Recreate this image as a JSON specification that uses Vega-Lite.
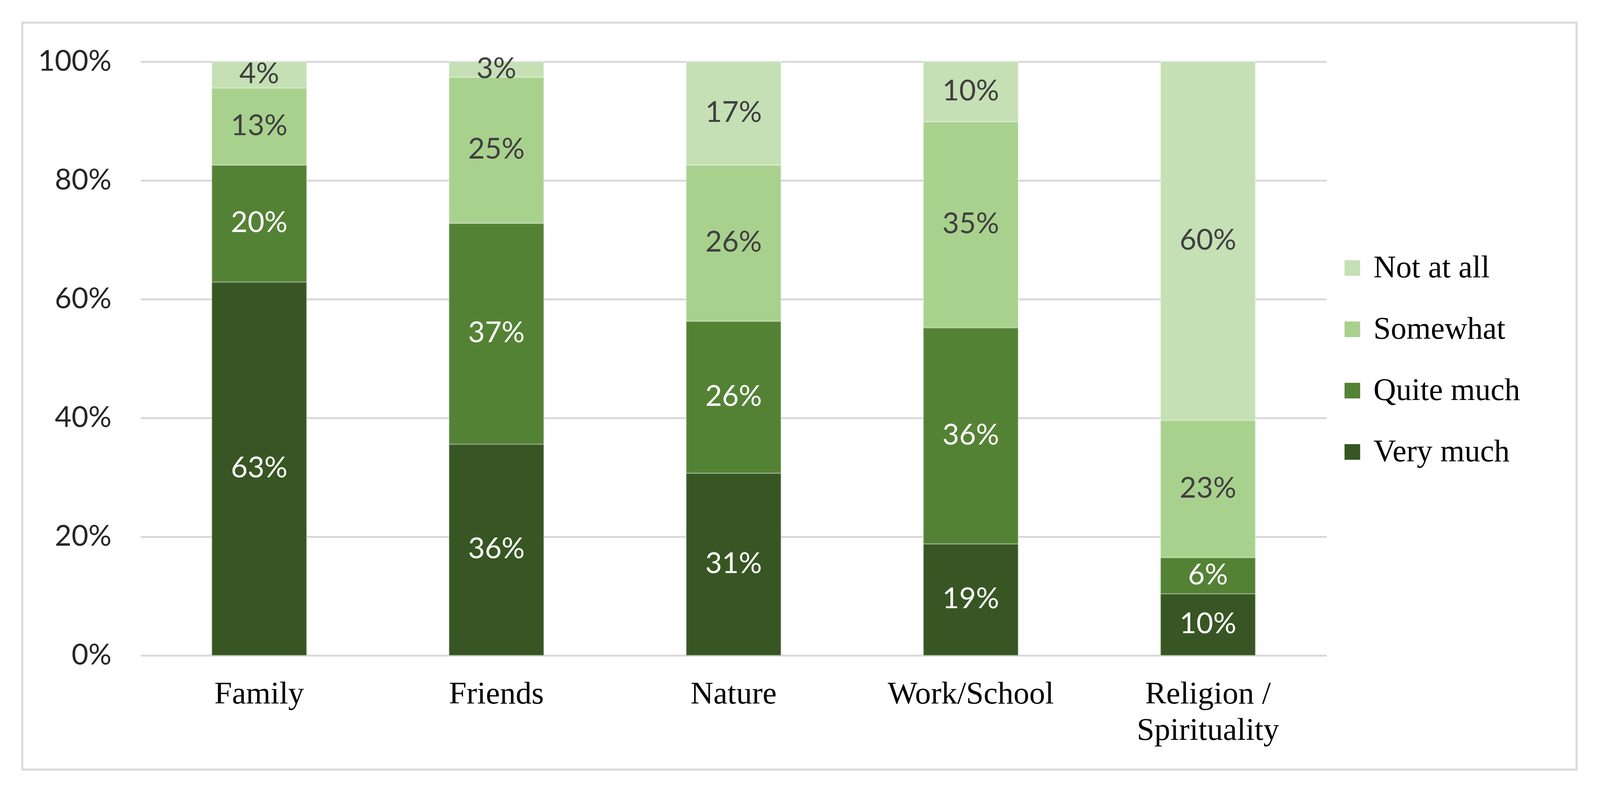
{
  "$schema": "https://vega.github.io/schema/vega-lite/v6.json",
  "width": 4096,
  "height": 2025,
  "autosize": {"type": "fit", "contains": "padding"},
  "padding": {"left": 57, "top": 58, "right": 60, "bottom": 55},
  "background": "white",
  "config": {
    "view": {"stroke": "#d9d9d9", "strokeWidth": 5},
    "font": "Lato"
  },
  "data": {
    "values": [
      {"source": "Family", "level": "Very much", "share": 0.629},
      {"source": "Family", "level": "Quite much", "share": 0.197},
      {"source": "Family", "level": "Somewhat", "share": 0.130},
      {"source": "Family", "level": "Not at all", "share": 0.044},
      {"source": "Friends", "level": "Very much", "share": 0.356},
      {"source": "Friends", "level": "Quite much", "share": 0.372},
      {"source": "Friends", "level": "Somewhat", "share": 0.246},
      {"source": "Friends", "level": "Not at all", "share": 0.026},
      {"source": "Nature", "level": "Very much", "share": 0.307},
      {"source": "Nature", "level": "Quite much", "share": 0.256},
      {"source": "Nature", "level": "Somewhat", "share": 0.263},
      {"source": "Nature", "level": "Not at all", "share": 0.174},
      {"source": "Work/School", "level": "Very much", "share": 0.188},
      {"source": "Work/School", "level": "Quite much", "share": 0.364},
      {"source": "Work/School", "level": "Somewhat", "share": 0.347},
      {"source": "Work/School", "level": "Not at all", "share": 0.101},
      {"source": "Religion / Spirituality", "level": "Very much", "share": 0.104},
      {"source": "Religion / Spirituality", "level": "Quite much", "share": 0.061},
      {"source": "Religion / Spirituality", "level": "Somewhat", "share": 0.231},
      {"source": "Religion / Spirituality", "level": "Not at all", "share": 0.604}
    ]
  },
  "transform": [
    {"calculate": "indexof(['Very much', 'Quite much', 'Somewhat', 'Not at all'], datum.level)", "as": "rank"},
    {"stack": "share", "groupby": ["source"], "sort": [{"field": "rank", "order": "ascending"}], "as": ["lo", "hi"]},
    {"calculate": "(datum.lo + datum.hi) / 2", "as": "mid"}
  ],
  "encoding": {
    "x": {
      "field": "source",
      "type": "nominal",
      "sort": null,
      "scale": {"range": [303, 3339], "paddingInner": 0.6, "paddingOuter": 0.3},
      "axis": {
        "title": null,
        "orient": "bottom",
        "offset": -292,
        "domain": false,
        "ticks": false,
        "tickSize": 0,
        "labelPadding": 58,
        "labelAngle": 0,
        "labelFont": "Liberation Serif",
        "labelFontSize": 81,
        "labelColor": "#000000",
        "labelLineHeight": 93,
        "labelLimit": 1000,
        "labelExpr": "datum.value == 'Religion / Spirituality' ? ['Religion /', 'Spirituality'] : datum.label"
      }
    }
  },
  "layer": [
    {
      "mark": {"type": "bar", "stroke": "#ffffff", "strokeOpacity": 0.3, "strokeWidth": 3},
      "encoding": {
        "y": {
          "field": "lo",
          "type": "quantitative",
          "scale": {"domain": [0, 1], "range": [1620, 100], "nice": false},
          "axis": {
            "title": null,
            "values": [0, 0.2, 0.4, 0.6, 0.8, 1],
            "format": ".0%",
            "grid": true,
            "gridColor": "#d9d9d9",
            "gridWidth": 5,
            "domain": false,
            "ticks": false,
            "tickSize": 0,
            "offset": -303,
            "labelPadding": 75,
            "labelLimit": 1000,
            "labelFont": "Lato",
            "labelFontSize": 74,
            "labelColor": "#262626"
          }
        },
        "y2": {"field": "hi"},
        "color": {
          "field": "level",
          "type": "nominal",
          "scale": {
            "domain": ["Not at all", "Somewhat", "Quite much", "Very much"],
            "range": ["#c5e0b4", "#a9d18e", "#548235", "#375623"]
          },
          "legend": {
            "title": null,
            "orient": "none",
            "legendX": 3365,
            "legendY": 588,
            "padding": 0,
            "symbolType": "square",
            "symbolSize": 1600,
            "symbolStrokeWidth": 0,
            "labelFont": "Liberation Serif",
            "labelFontSize": 80,
            "labelColor": "#000000",
            "labelOffset": 14,
            "labelLimit": 1000,
            "rowPadding": 77
          }
        }
      }
    },
    {
      "mark": {"type": "text", "font": "Lato", "fontSize": 74, "align": "center", "baseline": "middle"},
      "encoding": {
        "y": {"field": "mid", "type": "quantitative"},
        "text": {"field": "share", "type": "quantitative", "format": ".0%"},
        "color": {
          "condition": {"test": "datum.level == 'Very much' || datum.level == 'Quite much'", "value": "#ffffff"},
          "value": "#404040"
        }
      }
    }
  ]
}
